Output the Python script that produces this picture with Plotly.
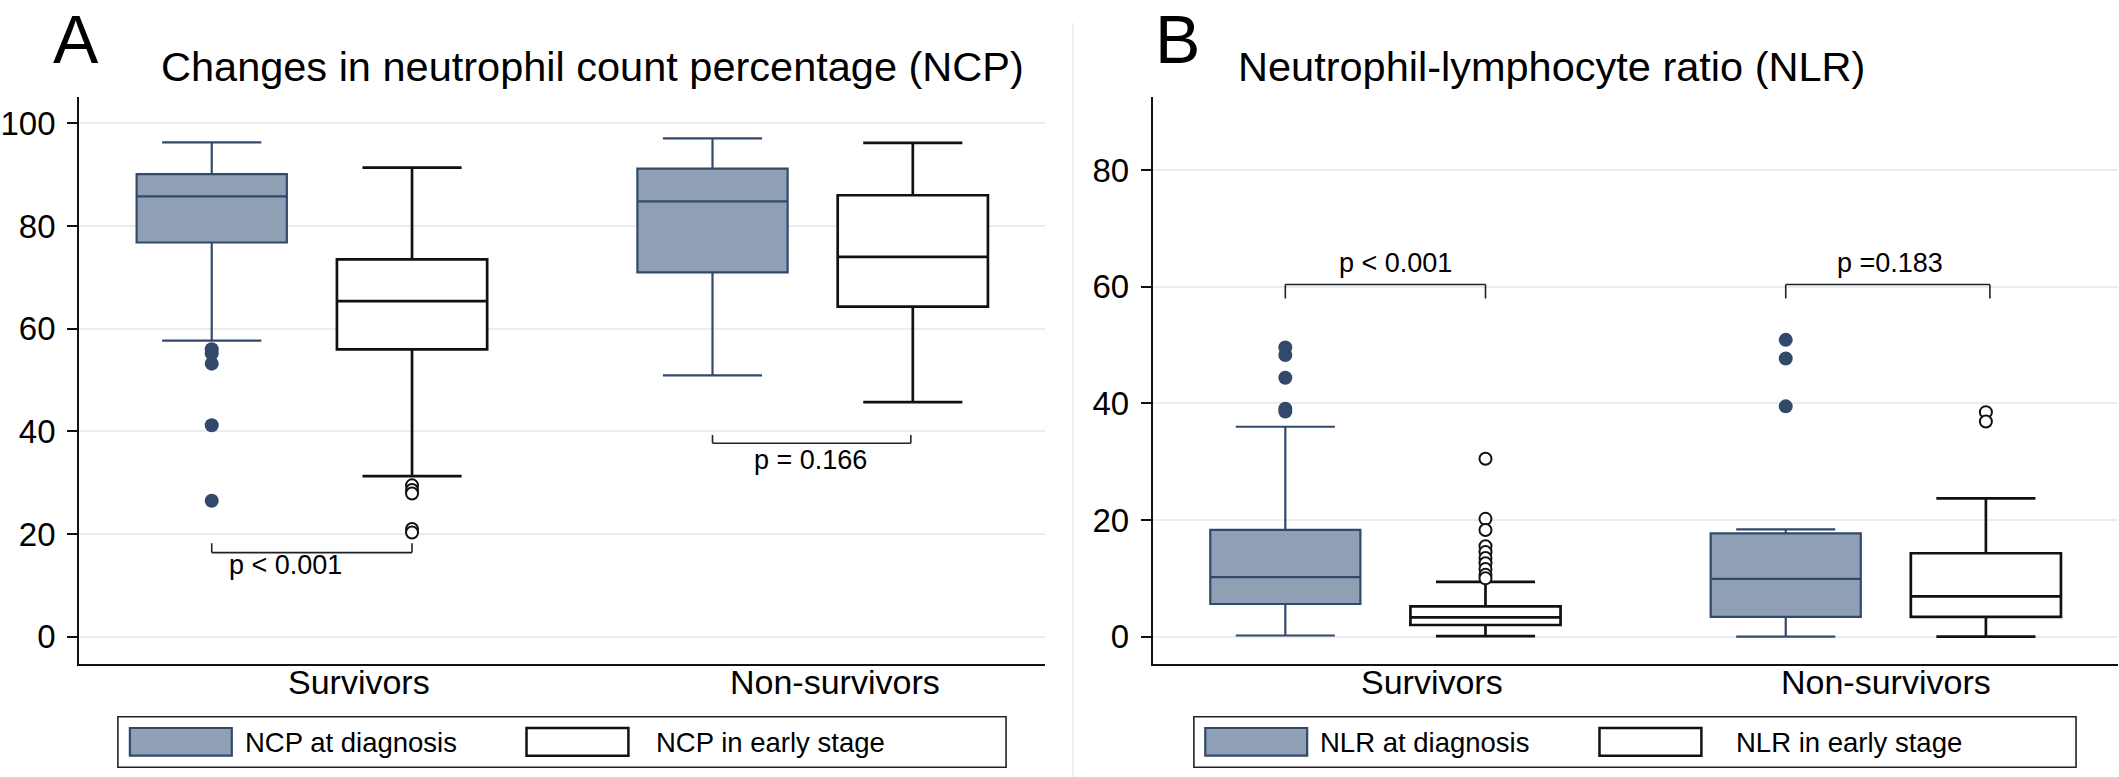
import plotly.graph_objects as go

W, H = 2119, 777

# ---------------- data ----------------
group_labels = ["Survivors", "Non-survivors"]
pos_diag = [0.0, 2.5]
pos_early = [1.0, 3.5]
label_pos_A = [0.733, 3.11]
label_pos_B = [0.733, 3.0]

# Panel A: NCP (%)
ncp_diag_q1 = [76.8, 71.0]
ncp_diag_med = [85.8, 84.8]
ncp_diag_q3 = [90.1, 91.2]
ncp_diag_lo = [57.7, 50.9]
ncp_diag_hi = [96.3, 97.1]
ncp_diag_out_surv = [56.0, 55.2, 53.2, 41.2, 26.5]

ncp_early_q1 = [56.0, 64.3]
ncp_early_med = [65.4, 74.0]
ncp_early_q3 = [73.5, 86.0]
ncp_early_lo = [31.3, 45.7]
ncp_early_hi = [91.4, 96.2]
ncp_early_out_surv = [29.5, 28.6, 27.9, 21.0, 20.3]

# Panel B: NLR
nlr_diag_q1 = [5.6, 3.4]
nlr_diag_med = [10.2, 9.9]
nlr_diag_q3 = [18.3, 17.7]
nlr_diag_lo = [0.2, 0.0]
nlr_diag_hi = [36.0, 18.4]
nlr_diag_out_surv = [49.6, 48.3, 44.4, 39.1, 38.6]
nlr_diag_out_non = [50.9, 47.7, 39.5]

nlr_early_q1 = [2.0, 3.4]
nlr_early_med = [3.3, 6.9]
nlr_early_q3 = [5.2, 14.3]
nlr_early_lo = [0.1, 0.0]
nlr_early_hi = [9.4, 23.7]
nlr_early_out_surv = [30.5, 20.2, 18.3, 15.5, 14.5, 13.5, 12.6, 11.6, 10.6, 10.0]
nlr_early_out_non = [38.5, 36.9]

yticks_A = [0, 20, 40, 60, 80, 100]
yticks_B = [0, 20, 40, 60, 80]

p_texts_A = ["p < 0.001", "p = 0.166"]
p_texts_B = ["p < 0.001", "p =0.183"]

# ---------------- styles ----------------
FONT = "Liberation Sans, Arial, Helvetica, sans-serif"
FILL = "#8FA0B4"
NAVY = "#33496B"
BLACK = "#111111"
GRID = "#E8EEF0"

def px(x):
    return x / W

def py(y):
    return 1 - y / H

fig = go.Figure()

def add_boxes(xa, ya, q1, med, q3, lo, hi, pos, fill, col, lw):
    fig.add_trace(go.Box(
        x=pos, q1=q1, median=med, q3=q3, lowerfence=lo, upperfence=hi,
        width=0.75, whiskerwidth=0.66, fillcolor=fill,
        line=dict(color=col, width=lw), boxpoints=False,
        xaxis=xa, yaxis=ya, showlegend=False, hoverinfo="y"))

def add_out(xa, ya, xpos, vals, filled):
    if filled:
        mk = dict(size=14, color=NAVY, line=dict(width=0))
    else:
        mk = dict(size=12, color="white", symbol="circle",
                  line=dict(width=2, color=BLACK))
    fig.add_trace(go.Scatter(x=[xpos] * len(vals), y=vals, mode="markers",
                             marker=mk, xaxis=xa, yaxis=ya, showlegend=False))

# Panel A
add_boxes("x", "y", ncp_diag_q1, ncp_diag_med, ncp_diag_q3, ncp_diag_lo, ncp_diag_hi,
          pos_diag, FILL, NAVY, 2.2)
add_boxes("x", "y", ncp_early_q1, ncp_early_med, ncp_early_q3, ncp_early_lo, ncp_early_hi,
          pos_early, "white", BLACK, 2.7)
add_out("x", "y", pos_diag[0], ncp_diag_out_surv, True)
add_out("x", "y", pos_early[0], ncp_early_out_surv, False)

# Panel B
add_boxes("x2", "y2", nlr_diag_q1, nlr_diag_med, nlr_diag_q3, nlr_diag_lo, nlr_diag_hi,
          pos_diag, FILL, NAVY, 2.2)
add_boxes("x2", "y2", nlr_early_q1, nlr_early_med, nlr_early_q3, nlr_early_lo, nlr_early_hi,
          pos_early, "white", BLACK, 2.7)
add_out("x2", "y2", pos_diag[0], nlr_diag_out_surv, True)
add_out("x2", "y2", pos_diag[1], nlr_diag_out_non, True)
add_out("x2", "y2", pos_early[0], nlr_early_out_surv, False)
add_out("x2", "y2", pos_early[1], nlr_early_out_non, False)

ydom = [py(664), py(96.7)]
xr = [-0.663, 4.16]

xcommon = dict(range=xr, showgrid=False, zeroline=False, showline=True,
               linecolor=BLACK, linewidth=1.8, ticks="", showticklabels=False,
               fixedrange=True)
ycommon = dict(showgrid=True, gridcolor=GRID, gridwidth=2, zeroline=False,
               showline=True, linecolor=BLACK, linewidth=1.6,
               ticks="outside", ticklen=10, tickwidth=1.6, tickcolor=BLACK,
               tickfont=dict(family=FONT, size=33, color="black"),
               ticklabelstandoff=5, fixedrange=True)

fig.update_layout(
    width=W, height=H, autosize=False,
    margin=dict(l=0, r=0, t=0, b=0),
    paper_bgcolor="white", plot_bgcolor="white",
    showlegend=False,
    xaxis=dict(domain=[px(77), px(1044)], anchor="y", **xcommon),
    yaxis=dict(domain=ydom, anchor="x", range=[-5.3, 105.2],
               tickvals=yticks_A, **ycommon),
    xaxis2=dict(domain=[px(1151.7), px(2118)], anchor="y2", **xcommon),
    yaxis2=dict(domain=ydom, anchor="x2", range=[-4.69, 92.6],
                tickvals=yticks_B, **ycommon),
)

shapes = []
ann = []

# category labels under each panel
for xa, lp in [("x", label_pos_A), ("x2", label_pos_B)]:
    for xv, lab in zip(lp, group_labels):
        ann.append(dict(xref=xa, yref="paper", x=xv, y=py(682), text=lab,
                        showarrow=False, xanchor="center", yanchor="middle",
                        font=dict(family=FONT, size=34, color="black")))

# p-value brackets (data coordinates)
def bracket(xa, ya, x0, x1, yl, yt, lw=1.6):
    for (a, b, c, d) in [(x0, yl, x1, yl), (x0, yl, x0, yt), (x1, yl, x1, yt)]:
        shapes.append(dict(type="line", xref=xa, yref=ya, x0=a, y0=b, x1=c, y1=d,
                           line=dict(color="#222222", width=lw)))

bracket("x", "y", 0.0, 1.0, 16.4, 18.2)
bracket("x", "y", 2.5, 3.49, 37.7, 39.3)
bracket("x2", "y2", 0.0, 1.0, 60.4, 58.0)
bracket("x2", "y2", 2.5, 3.52, 60.4, 58.0)

def ptext(xa, ya, x, y, t):
    ann.append(dict(xref=xa, yref=ya, x=x, y=y, text=t, showarrow=False,
                    xanchor="center", yanchor="middle",
                    font=dict(family=FONT, size=27, color="black")))

ptext("x", "y", 0.367, 14.0, p_texts_A[0])
ptext("x", "y", 2.99, 34.4, p_texts_A[1])
ptext("x2", "y2", 0.55, 64.0, p_texts_B[0])
ptext("x2", "y2", 3.02, 64.0, p_texts_B[1])

# panel letters & titles
for letter, xc in [("A", 74), ("B", 1177)]:
    ann.append(dict(xref="paper", yref="paper", x=px(xc), y=1.0, text=letter,
                    showarrow=False, xanchor="center", yanchor="top", borderpad=0,
                    font=dict(family=FONT, size=68, color="black")))
for title, xl in [("Changes in neutrophil count percentage (NCP)", 157),
                  ("Neutrophil-lymphocyte ratio (NLR)", 1235)]:
    ann.append(dict(xref="paper", yref="paper", x=px(xl), y=py(66), text=title,
                    showarrow=False, xanchor="left", yanchor="middle",
                    font=dict(family=FONT, size=41.5, color="black")))

# legends
def legend(x0, x1, k1, t1, lab1, k2, t2, lab2):
    shapes.append(dict(type="rect", xref="paper", yref="paper",
                       x0=px(x0), x1=px(x1), y0=py(767.3), y1=py(716.7),
                       line=dict(color="#222222", width=1.6), fillcolor="white"))
    shapes.append(dict(type="rect", xref="paper", yref="paper",
                       x0=px(k1), x1=px(k1 + 102), y0=py(755.7), y1=py(728),
                       line=dict(color=NAVY, width=2.2), fillcolor=FILL))
    shapes.append(dict(type="rect", xref="paper", yref="paper",
                       x0=px(k2), x1=px(k2 + 102), y0=py(755.7), y1=py(728),
                       line=dict(color=BLACK, width=2.5), fillcolor="white"))
    for xt, lab in [(t1, lab1), (t2, lab2)]:
        ann.append(dict(xref="paper", yref="paper", x=px(xt), y=py(742), text=lab,
                        showarrow=False, xanchor="left", yanchor="middle",
                        font=dict(family=FONT, size=27.5, color="black")))

legend(116, 1005, 128, 241, "NCP at diagnosis", 525, 653, "NCP in early stage")
legend(1193, 2076, 1204.4, 1317, "NLR at diagnosis", 1599, 1734, "NLR in early stage")

# faint separator between panels
shapes.append(dict(type="line", xref="paper", yref="paper", x0=px(1072), x1=px(1072),
                   y0=py(777), y1=py(23), line=dict(color="#EEF1F3", width=2)))

fig.update_layout(shapes=shapes, annotations=ann)

fig.write_html("out.html", config={"displayModeBar": False},
               post_script="document.body.style.margin='0';document.body.style.padding='0';")
